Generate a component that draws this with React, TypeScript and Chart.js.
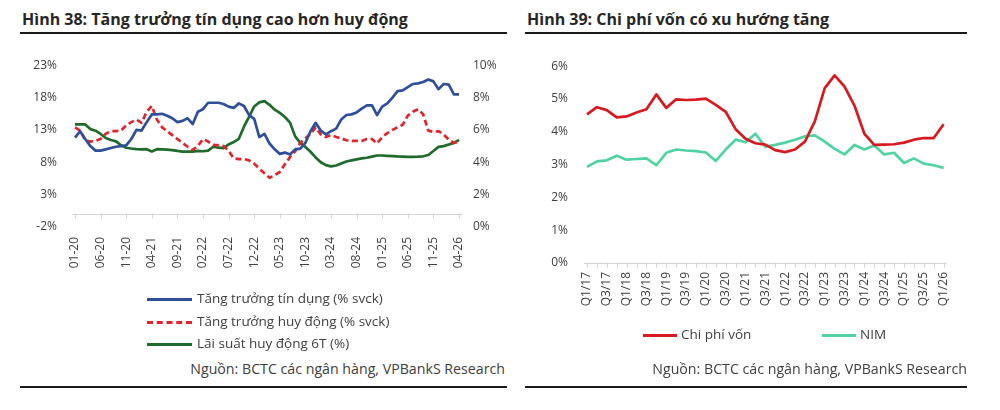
import { useEffect, useRef } from "react";
import { Chart, registerables } from "chart.js";
Chart.register(...registerables);

const FONT = "'Open Sans', 'Noto Sans', sans-serif";
const TEXT = "#404040";

// ---- Hình 38 : monthly, 01-20 .. 04-26
function monthLabels(): string[] {
  const out: string[] = [];
  for (let y = 20; y <= 26; y++) {
    for (let m = 1; m <= 12; m++) {
      if (y === 26 && m > 4) break;
      out.push(String(m).padStart(2, "0") + "-" + y);
    }
  }
  return out;
}
const months = monthLabels();

const creditGrowth = [
  11.8, 12.8, 11.6, 10.5, 9.8, 9.8, 10.0, 10.2, 10.4, 10.5,
  10.6, 11.6, 13.0, 12.9, 14.2, 15.4, 15.4, 15.5, 15.2, 14.8,
  14.2, 14.4, 14.8, 13.9, 15.8, 16.2, 17.2, 17.2, 17.2, 17.0,
  16.6, 16.4, 17.1, 16.7, 15.3, 14.7, 11.9, 12.4, 10.9, 10.0,
  9.3, 9.5, 9.2, 10.0, 10.1, 11.0, 12.8, 14.1, 12.9, 12.3,
  12.8, 13.2, 14.6, 15.3, 15.4, 15.7, 16.3, 16.8, 16.8, 15.3,
  16.6, 17.1, 18.0, 19.0, 19.1, 19.6, 20.1, 20.2, 20.4, 20.8,
  20.5, 19.3, 20.1, 20.0, 18.5, 18.5,
];
const depositGrowth = [
  13.4, 12.9, 11.4, 11.2, 11.3, 11.6, 12.4, 12.8, 12.8, 12.9,
  13.7, 14.2, 14.6, 14.1, 15.8, 16.7, 14.6, 13.4, 12.8, 12.2,
  11.6, 11.0, 10.4, 9.9, 10.5, 11.6, 11.2, 10.7, 10.6, 10.5,
  9.8, 8.6, 8.5, 8.5, 8.3, 7.8, 7.0, 6.3, 5.6, 6.0,
  6.5, 7.7, 8.8, 9.7, 11.0, 11.7, 12.4, 13.4, 12.3, 11.9,
  12.2, 11.9, 11.7, 11.4, 11.3, 11.3, 11.3, 11.6, 11.6, 10.9,
  11.9, 12.5, 13.0, 13.4, 13.8, 15.2, 15.8, 16.2, 15.4, 12.9,
  12.7, 12.8, 12.3, 11.5, 11.0, 11.2,
];
const depositRate6m = [
  6.34, 6.34, 6.34, 6.05, 5.95, 5.75, 5.5, 5.38, 5.29, 5.05,
  4.9, 4.85, 4.81, 4.8, 4.81, 4.67, 4.81, 4.8, 4.78, 4.75,
  4.7, 4.66, 4.66, 4.66, 4.7, 4.68, 4.72, 4.96, 4.9, 4.88,
  5.1, 5.25, 5.45, 6.2, 6.8, 7.45, 7.7, 7.78, 7.55, 7.25,
  7.05, 6.8, 6.45, 5.6, 5.2, 4.95, 4.65, 4.3, 4.0, 3.82,
  3.75, 3.8, 3.92, 4.05, 4.12, 4.18, 4.24, 4.28, 4.35, 4.42,
  4.42, 4.4, 4.38, 4.36, 4.35, 4.34, 4.34, 4.35, 4.37, 4.45,
  4.7, 4.95, 5.0, 5.1, 5.2, 5.38,
];

// ---- Hình 39 : quarterly, Q1/17 .. Q1/26
const quarters = [
  "Q1/17", "Q2/17", "Q3/17", "Q4/17", "Q1/18", "Q2/18", "Q3/18", "Q4/18",
  "Q1/19", "Q2/19", "Q3/19", "Q4/19", "Q1/20", "Q2/20", "Q3/20", "Q4/20",
  "Q1/21", "Q2/21", "Q3/21", "Q4/21", "Q1/22", "Q2/22", "Q3/22", "Q4/22",
  "Q1/23", "Q2/23", "Q3/23", "Q4/23", "Q1/24", "Q2/24", "Q3/24", "Q4/24",
  "Q1/25", "Q2/25", "Q3/25", "Q4/25", "Q1/26",
];
const costOfFunds = [
  4.53, 4.75, 4.66, 4.44, 4.47, 4.59, 4.69, 5.14, 4.73, 4.99,
  4.97, 4.98, 5.01, 4.82, 4.61, 4.08, 3.79, 3.65, 3.61, 3.44,
  3.38, 3.46, 3.7, 4.32, 5.33, 5.72, 5.38, 4.8, 3.94, 3.6,
  3.61, 3.62, 3.67, 3.76, 3.81, 3.81, 4.23,
];
const nim = [
  2.93, 3.1, 3.13, 3.27, 3.15, 3.17, 3.19, 2.98, 3.36, 3.46,
  3.43, 3.41, 3.37, 3.11, 3.46, 3.76, 3.68, 3.94, 3.55, 3.6,
  3.67, 3.76, 3.86, 3.89, 3.7, 3.48, 3.31, 3.6, 3.46, 3.58,
  3.31, 3.36, 3.05, 3.19, 3.03, 2.98, 2.9,
];

// axis line at value 0 of the y scale, with little ticks under the categories
const zeroLine = {
  id: "zeroLine",
  afterDatasetsDraw(chart: any, _a: any, opts: any) {
    const { ctx, chartArea, scales } = chart;
    const y = Math.round(scales.y.getPixelForValue(0)) + 0.5;
    ctx.save();
    ctx.strokeStyle = "#d4d4d4";
    ctx.lineWidth = 1;
    ctx.beginPath();
    ctx.moveTo(chartArea.left - 3, y);
    ctx.lineTo(chartArea.right + 3, y);
    const n = chart.data.labels.length;
    for (let i = 0; i < n; i += opts.every) {
      const x = Math.round(scales.x.getPixelForValue(i)) + 0.5;
      ctx.moveTo(x, y - 1);
      ctx.lineTo(x, y + 4);
    }
    ctx.stroke();
    ctx.restore();
  },
};

const tickFont = { family: FONT, size: 12 };

function CreditChart() {
  const ref = useRef<HTMLCanvasElement | null>(null);
  useEffect(() => {
    if (!ref.current) return;
    const chart = new Chart(ref.current, {
      type: "line",
      data: {
        labels: months,
        datasets: [
          { label: "Tăng trưởng tín dụng (% svck)", data: creditGrowth, borderColor: "#2f4f9a", borderWidth: 2.7, yAxisID: "y" },
          { label: "Tăng trưởng huy động (% svck)", data: depositGrowth, borderColor: "#e0262b", borderWidth: 2.7, borderDash: [6, 3.5], yAxisID: "y" },
          { label: "Lãi suất huy động 6T (%)", data: depositRate6m, borderColor: "#1f6b2b", borderWidth: 2.7, yAxisID: "y1" },
        ],
      },
      plugins: [zeroLine],
      options: {
        animation: false,
        responsive: false,
        devicePixelRatio: 1,
        layout: { padding: { top: 13, left: 0, right: 0, bottom: 0 } },
        elements: { point: { radius: 0 }, line: { tension: 0, borderJoinStyle: "round" } },
        plugins: { legend: { display: false }, tooltip: { enabled: false }, zeroLine: { every: 5 } } as any,
        scales: {
          x: {
            offset: false,
            grid: { display: false, drawTicks: false },
            border: { display: false },
            afterFit: (s: any) => { s.height = 63; },
            ticks: {
              autoSkip: false, minRotation: 90, maxRotation: 90, padding: 10,
              color: TEXT, font: tickFont,
              callback: (_v: any, i: number) => (i % 5 === 0 ? months[i] : ""),
            },
          },
          y: {
            position: "left", min: -2, max: 23,
            grid: { display: false, drawTicks: false },
            border: { display: false },
            afterFit: (s: any) => { s.width = 55; },
            ticks: { stepSize: 5, padding: 18, color: TEXT, font: tickFont, callback: (v: any) => v + "%" },
          },
          y1: {
            position: "right", min: 0, max: 10,
            grid: { display: false, drawTicks: false },
            border: { display: false },
            afterFit: (s: any) => { s.width = 46; },
            ticks: { stepSize: 2, padding: 14, color: TEXT, font: tickFont, callback: (v: any) => v + "%" },
          },
        },
      },
    });
    return () => chart.destroy();
  }, []);
  return <canvas ref={ref} width={485} height={250} style={{ position: "absolute", left: 20, top: 40, width: 485, height: 250 }} />;
}

function CostChart() {
  const ref = useRef<HTMLCanvasElement | null>(null);
  useEffect(() => {
    if (!ref.current) return;
    const chart = new Chart(ref.current, {
      type: "line",
      data: {
        labels: quarters,
        datasets: [
          { label: "Chi phí vốn", data: costOfFunds, borderColor: "#d71920", borderWidth: 2.7 },
          { label: "NIM", data: nim, borderColor: "#4fd3a0", borderWidth: 2.7 },
        ],
      },
      plugins: [zeroLine],
      options: {
        animation: false,
        responsive: false,
        devicePixelRatio: 1,
        layout: { padding: { top: 15, left: 0, right: 19, bottom: 0 } },
        elements: { point: { radius: 0 }, line: { tension: 0, borderJoinStyle: "round" } },
        plugins: { legend: { display: false }, tooltip: { enabled: false }, zeroLine: { every: 1 } } as any,
        scales: {
          x: {
            offset: false,
            grid: { display: false, drawTicks: false },
            border: { display: false },
            afterFit: (s: any) => { s.height = 67; },
            ticks: {
              autoSkip: false, minRotation: 90, maxRotation: 90, padding: 9,
              color: TEXT, font: tickFont,
              callback: (_v: any, i: number) => (i % 2 === 0 ? quarters[i] : ""),
            },
          },
          y: {
            min: 0, max: 6,
            grid: { display: false, drawTicks: false },
            border: { display: false },
            afterFit: (s: any) => { s.width = 62; },
            ticks: { stepSize: 1, padding: 19, color: TEXT, font: tickFont, callback: (v: any) => v + "%" },
          },
        },
      },
    });
    return () => chart.destroy();
  }, []);
  return <canvas ref={ref} width={442} height={290} style={{ position: "absolute", left: 525, top: 40, width: 442, height: 290 }} />;
}

const abs = (s: React.CSSProperties): React.CSSProperties => ({ position: "absolute", ...s });

function LegendLine({ x, y, w, color, dashed }: { x: number; y: number; w: number; color: string; dashed?: boolean }) {
  return (
    <div
      style={abs({
        left: x, top: y - 1.5, width: w, height: 0,
        borderTop: `3px ${dashed ? "dashed" : "solid"} ${color}`,
      })}
    />
  );
}

const legendText: React.CSSProperties = { fontSize: 13.5, color: TEXT, whiteSpace: "nowrap", lineHeight: "16px" };
const sourceText: React.CSSProperties = { ...legendText, fontSize: 14.2 };
const titleText: React.CSSProperties = { fontSize: 16, fontWeight: 700, color: "#262626", whiteSpace: "nowrap", lineHeight: "20px" };

export default function App() {
  useEffect(() => {
    document.body.style.margin = "0";
  }, []);
  return (
    <div style={{ position: "relative", width: 1000, height: 410, background: "#fff", fontFamily: FONT, overflow: "hidden" }}>
      <div style={abs({ left: 22, top: 9, ...titleText })}>Hình 38: Tăng trưởng tín dụng cao hơn huy động</div>
      <div style={abs({ left: 527, top: 9, ...titleText })}>Hình 39: Chi phí vốn có xu hướng tăng</div>
      <div style={abs({ left: 20, top: 32, width: 487, height: 2, background: "#1a1a1a" })} />
      <div style={abs({ left: 525, top: 32, width: 442, height: 2, background: "#1a1a1a" })} />

      <CreditChart />
      <CostChart />

      <LegendLine x={147} y={299} w={45} color="#2f4f9a" />
      <div style={abs({ left: 197, top: 290, ...legendText })}>Tăng trưởng tín dụng (% svck)</div>
      <LegendLine x={147} y={322} w={45} color="#e0262b" dashed />
      <div style={abs({ left: 197, top: 313, ...legendText })}>Tăng trưởng huy động (% svck)</div>
      <LegendLine x={147} y={344} w={45} color="#1f6b2b" />
      <div style={abs({ left: 197, top: 335, ...legendText })}>Lãi suất huy động 6T (%)</div>

      <LegendLine x={643} y={335} w={34} color="#d71920" />
      <div style={abs({ left: 681, top: 326, ...legendText })}>Chi phí vốn</div>
      <LegendLine x={822} y={335} w={34} color="#4fd3a0" />
      <div style={abs({ left: 860, top: 326, ...legendText })}>NIM</div>

      <div style={abs({ right: 1000 - 505, top: 361, ...sourceText })}>Nguồn: BCTC các ngân hàng, VPBankS Research</div>
      <div style={abs({ right: 1000 - 967, top: 361, ...sourceText })}>Nguồn: BCTC các ngân hàng, VPBankS Research</div>

      <div style={abs({ left: 20, top: 386, width: 487, height: 1.5, background: "#1a1a1a" })} />
      <div style={abs({ left: 525, top: 386, width: 442, height: 1.5, background: "#1a1a1a" })} />
    </div>
  );
}
